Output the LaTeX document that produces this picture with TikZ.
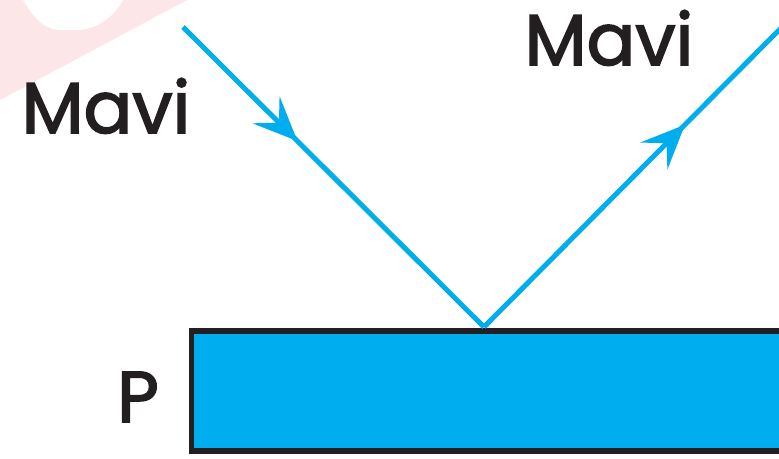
\documentclass[tikz,border=0pt]{standalone}
\usepackage{fontspec}
\setmainfont{Poppins}
\newfontfamily\lblfont{Poppins}[FakeBold=2.2]
\usetikzlibrary{arrows.meta,decorations.markings}
\definecolor{ray}{HTML}{00AEEF}
\definecolor{ink}{HTML}{231F20}
\definecolor{wm}{HTML}{FCE6E8}
\tikzset{
  lbl/.style={anchor=base, inner sep=0pt, text=ink, font=\fontsize{72}{72}\lblfont},
  raystyle/.style={draw=ray, line width=5pt},
  rayarrow/.style={postaction={decorate}, decoration={markings,
     mark=at position #1 with {\arrow{Stealth[length=44pt,width=38pt,inset=18pt,ray]}}}}
}
\begin{document}
\begin{tikzpicture}[x=1pt,y=-1pt]
\useasboundingbox (0,0) rectangle (779,458);
\clip (0,0) rectangle (779,458);
% faint watermark
\fill[wm] (0,0) -- (187,0) -- (0,100) -- cycle;
\fill[white] (23,0) .. controls (35,20) and (45,30) .. (62,30) -- (80,30) .. controls (100,28) and (115,15) .. (123,0) -- cycle;
% plate
\draw[ink, fill=ray, line width=5.5pt] (191.5,330.8) rectangle (810,451.2);
% rays
\coordinate (S) at (183,27);
\coordinate (R) at (484,327);
\coordinate (E) at (784,25);
\draw[raystyle, rayarrow=0.38] (S) -- (R);
\draw[raystyle, rayarrow=0.67] (R) -- (E);
% labels
\node[lbl] (m1) at (106,133) {Mavi};
\node[lbl] (m2) at (609,65) {Mavi};
\node[lbl] (p) at (138,422) {P};
\end{tikzpicture}
\end{document}
